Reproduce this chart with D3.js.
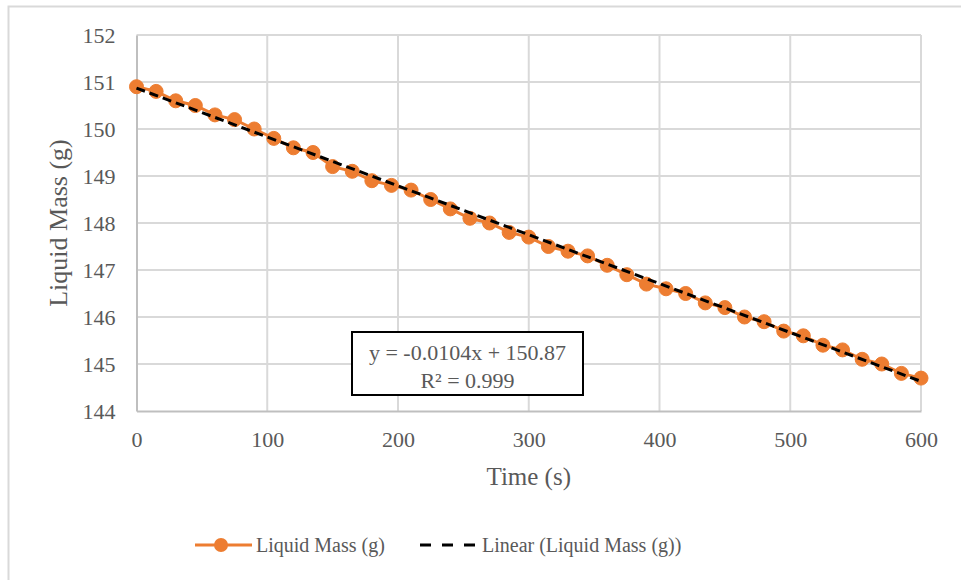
<!DOCTYPE html>
<html>
<head>
<meta charset="utf-8">
<script src="https://cdn.jsdelivr.net/npm/d3@7"></script>
<style>
  html, body { margin: 0; padding: 0; background: #fff; }
  svg { display: block; }
  svg text { font-family: "Liberation Serif", "DejaVu Serif", serif !important; fill: #595959; }
</style>
</head>
<body>
<svg id="chart" width="961" height="580"></svg>
<script>
// Elapsed time (s) and measured liquid mass (g)
const timeSec = [0, 15, 30, 45, 60, 75, 90, 105, 120, 135, 150, 165, 180, 195, 210, 225, 240, 255, 270, 285,
  300, 315, 330, 345, 360, 375, 390, 405, 420, 435, 450, 465, 480, 495, 510, 525, 540, 555, 570, 585, 600];
const liquidMass = [150.9, 150.8, 150.6, 150.5, 150.3, 150.2, 150.0, 149.8, 149.6, 149.5, 149.2, 149.1, 148.9, 148.8,
  148.7, 148.5, 148.3, 148.1, 148.0, 147.8, 147.7, 147.5, 147.4, 147.3, 147.1, 146.9, 146.7, 146.6, 146.5, 146.3,
  146.2, 146.0, 145.9, 145.7, 145.6, 145.4, 145.3, 145.1, 145.0, 144.8, 144.7];

// Linear trendline coefficients
const trendSlope = -0.0104;
const trendIntercept = 150.87;
const trendLabel = ["y = -0.0104x  + 150.87", "R\u00B2 = 0.999"];

const xTicks = [0, 100, 200, 300, 400, 500, 600];
const yTicks = [144, 145, 146, 147, 148, 149, 150, 151, 152];

const seriesName = "Liquid Mass (g)";
const trendName = "Linear (Liquid Mass (g))";
const xTitle = "Time (s)";
const yTitle = "Liquid Mass (g)";

const svg = d3.select("#chart");
const orange = "#ED7D31";
const grid = "#D9D9D9";

// Chart area outline
svg.append("rect")
  .attr("x", 8.5).attr("y", 6.5).attr("width", 970).attr("height", 600)
  .attr("fill", "none").attr("stroke", "#D9D9D9").attr("stroke-width", 2);

const plot = { left: 136.5, right: 921, top: 35, bottom: 411 };

const x = d3.scaleLinear().domain([0, 600]).range([plot.left, plot.right]);
const y = d3.scaleLinear().domain([144, 152]).range([plot.bottom, plot.top]);

// Gridlines
svg.append("g").selectAll("line").data(yTicks.filter(d => d !== 144)).join("line")
  .attr("x1", plot.left).attr("x2", plot.right)
  .attr("y1", d => y(d)).attr("y2", d => y(d))
  .attr("stroke", grid).attr("stroke-width", 2);
svg.append("g").selectAll("line").data(xTicks.filter(d => d !== 0)).join("line")
  .attr("x1", d => x(d)).attr("x2", d => x(d))
  .attr("y1", plot.top).attr("y2", plot.bottom)
  .attr("stroke", grid).attr("stroke-width", 2);

// Axes
const xAxis = svg.append("g").attr("transform", `translate(0,${plot.bottom})`)
  .call(d3.axisBottom(x).tickValues(xTicks).tickSize(0).tickPadding(20));
const yAxis = svg.append("g").attr("transform", `translate(${plot.left},0)`)
  .call(d3.axisLeft(y).tickValues(yTicks).tickSize(0).tickPadding(21));
[xAxis, yAxis].forEach(a => {
  a.attr("font-family", null).attr("font-size", null);
  a.select(".domain").attr("stroke", "#BFBFBF").attr("stroke-width", 2);
  a.selectAll("text").attr("font-size", 22).attr("fill", "#595959");
});
xAxis.selectAll("text").attr("dy", "0.32em").attr("y", 29);

// Axis titles
svg.append("text").attr("x", (plot.left + plot.right) / 2).attr("y", 476)
  .attr("text-anchor", "middle").attr("dominant-baseline", "central")
  .attr("font-size", 25).text(xTitle);
svg.append("text").attr("transform", `translate(58,${(plot.top + plot.bottom) / 2}) rotate(-90)`)
  .attr("text-anchor", "middle").attr("dominant-baseline", "central")
  .attr("font-size", 26).text(yTitle);

// Data series
const pts = timeSec.map((t, i) => [t, liquidMass[i]]);
const line = d3.line().x(d => x(d[0])).y(d => y(d[1]));
svg.append("path").datum(pts).attr("d", line)
  .attr("fill", "none").attr("stroke", orange).attr("stroke-width", 3);
svg.append("g").selectAll("circle").data(pts).join("circle")
  .attr("cx", d => x(d[0])).attr("cy", d => y(d[1])).attr("r", 7)
  .attr("fill", orange).attr("stroke", orange).attr("stroke-width", 1);

// Trendline
const trend = [0, 600].map(t => [t, trendSlope * t + trendIntercept]);
svg.append("path").datum(trend).attr("d", line)
  .attr("fill", "none").attr("stroke", "#000").attr("stroke-width", 3)
  .attr("stroke-dasharray", "9,5");

// Trendline equation box
const box = { x: 352, y: 332, w: 231, h: 63 };
svg.append("rect").attr("x", box.x).attr("y", box.y).attr("width", box.w).attr("height", box.h)
  .attr("fill", "#fff").attr("stroke", "#000").attr("stroke-width", 2);
svg.append("g").selectAll("text").data(trendLabel).join("text")
  .attr("x", box.x + box.w / 2).attr("y", (d, i) => 352 + i * 28)
  .attr("text-anchor", "middle").attr("dominant-baseline", "central")
  .attr("font-size", 22).text(d => d);

// Legend
const leg = svg.append("g");
leg.append("line").attr("x1", 195).attr("x2", 252).attr("y1", 545).attr("y2", 545)
  .attr("stroke", orange).attr("stroke-width", 3);
leg.append("circle").attr("cx", 221).attr("cy", 545).attr("r", 7).attr("fill", orange);
leg.append("text").attr("x", 256).attr("y", 545).attr("dominant-baseline", "central")
  .attr("font-size", 20).text(seriesName);
leg.append("line").attr("x1", 420).attr("x2", 476).attr("y1", 545).attr("y2", 545)
  .attr("stroke", "#000").attr("stroke-width", 3).attr("stroke-dasharray", "11,11");
leg.append("text").attr("x", 482).attr("y", 545).attr("dominant-baseline", "central")
  .attr("font-size", 20).text(trendName);
</script>
</body>
</html>
